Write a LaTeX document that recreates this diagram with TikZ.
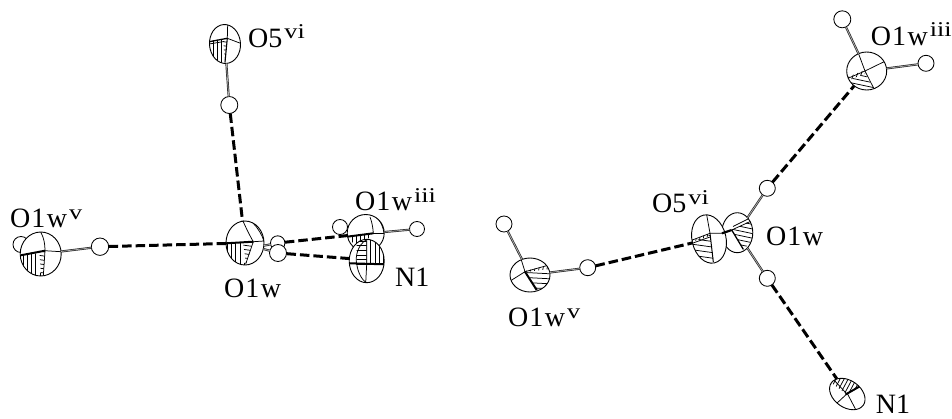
\documentclass[tikz,border=0pt]{standalone}
\usepackage{fontspec}
\setmainfont{Liberation Serif}
\usetikzlibrary{shapes.geometric}
\tikzset{
  atom/.style={draw=black,line width=0.9pt,fill=white,ellipse,inner sep=0pt,outer sep=0pt},
  hyd/.style={draw=black,line width=0.85pt,fill=white,circle,inner sep=0pt,outer sep=0pt},
  hbond/.style={line width=3pt,dash pattern=on 9.5pt off 4pt},
  cbond/.style={draw=black!85,line width=0.7pt,double=white!70!black,double distance=0.7pt},
  lab/.style={anchor=base west,inner sep=0pt,font=\fontsize{28}{28}\selectfont},
  fine/.style={line width=0.75pt},
  heavy/.style={line width=2pt}
}
\newcommand{\upx}[1]{\kern2pt\raisebox{8.5pt}{\scalebox{1.25}[1]{\fontsize{21}{21}\selectfont #1}}}
\newcommand{\owat}{O\kern1pt 1\kern1.5pt w}
\newcommand{\atomn}[6]{\node[atom,minimum width=2*#4 pt,minimum height=2*#5 pt,rotate=#6] (#1) at (#2,#3) {};}
\newcommand{\hatm}[4]{\node[hyd,minimum size=2*#4 pt] (#1) at (#2,#3) {};}
\newcommand{\detail}[6]{\begin{scope}\clip[shift={(#1,#2)},rotate=#5] (0,0) ellipse[x radius=#3,y radius=#4];#6\end{scope}}
\newcommand{\hatch}[4]{\begin{scope}\clip #1;\begin{scope}[shift={(#2)},rotate=#3]\foreach \i in {-10,...,10}{\draw[fine] (-70,\i*#4)--(70,\i*#4);}\end{scope}\end{scope}}
\begin{document}
\begin{tikzpicture}[x=1pt,y=-1pt]
\path[use as bounding box,fill=white] (0,0) rectangle (952,418);

% ---------- left cluster ----------
\hatm{hLa}{229.3}{105}{8.5}
\hatm{hLb}{100}{246.7}{8.7}
\hatm{hLv}{21}{244.5}{8}
\atomn{oLfive}{225}{44}{15.5}{19.5}{4}
\detail{225}{44}{15.5}{19.5}{4}{
  \hatch{(209,41)--(223,39)--(225,63)--(205,63)--cycle}{225,44}{90}{4}
  \hatch{(223,39)--(227.3,38.3)--(225,63)--cycle}{225,50}{-8}{4}
  \draw[line width=1.3pt] (209.3,41.7)--(227.3,38.3);
  \draw[fine] (209.3,44)--(224,41.5);
  \draw[line width=1.1pt] (227.3,38.3)--(225,62.3);
  \draw[fine] (227.7,24)--(227.3,38.3)--(241,43.5);
}
\atomn{oLv}{40.7}{254}{20.5}{22}{0}
\detail{40.7}{254}{20.5}{22}{0}{
  \hatch{(20.7,255.3)--(39.5,253)--(41,277)--(20,277)--cycle}{40,260}{90}{4.2}
  \hatch{(39.5,253)--(45,250.7)--(43.3,277)--(41,277)--cycle}{42,260}{-8}{4.2}
  \draw[heavy] (20.7,255.3)--(45,250.7);
  \draw[fine] (45,250.7)--(43.3,276);
  \draw[fine] (40.7,232) .. controls (44,238) and (45,244) .. (45,250.7);
  \draw[fine] (45,250.7)--(61,251.7);
}
\atomn{oLw}{245}{243}{19}{22}{0}
\detail{245}{243}{19}{22}{0}{
  \hatch{(226,243)--(243,242)--(245,266)--(226,266)--cycle}{240,250}{90}{4.2}
  \hatch{(243,242)--(253.3,241.7)--(246,264)--cycle}{248,250}{-8}{4.2}
  \draw[heavy] (225.7,243.3)--(253.3,241.7);
  \draw[fine] (253.3,241.7)--(245.7,264);
  \draw[fine] (243,221) .. controls (246,228) and (250,236) .. (253.3,241.7);
  \draw[fine] (253,223) .. controls (258,228) and (262,235) .. (264,241);
  \draw[fine] (253.3,241.7)--(264,241);
}
\atomn{oLiii}{365.7}{233}{18.5}{18.5}{0}
\detail{365.7}{233}{18.5}{18.5}{0}{
  \hatch{(348,236)--(373.3,233.3)--(358,250)--cycle}{360,240}{90}{4}
  \draw[heavy] (347,236.7)--(373.3,233.3);
  \draw[fine] (370,217) .. controls (372,222) and (373,228) .. (373.3,233.3);
  \draw[fine] (373.3,233.3)--(384,233.3);
  \draw[fine] (376,217) .. controls (381,221) and (383,227) .. (384,233);
}
\hatm{hLc}{340}{227}{7.5}
\hatm{hLd}{417}{229}{7.5}
\hatm{hLe}{277.7}{243}{7.2}
\draw[cbond] (oLfive)--(hLa);
\draw[cbond] (oLv)--(hLb);
\draw[cbond] (oLw.-8)--(hLe);
\hatm{hLf}{278}{253}{8.5}
\draw[cbond] (oLw.-18)--(hLf);
\draw[cbond] (oLiii.3)--(hLd);
\atomn{nL}{366.7}{261}{17.5}{21.7}{0}
\detail{366.7}{261}{17.5}{21.7}{0}{
  \hatch{(356.7,240)--(366.7,240)--(366.7,264)--(356.7,264)--cycle}{360,255}{0}{4.6}
  \hatch{(366.7,240)--(386,240)--(386,264.5)--(366.7,264)--cycle}{375,255}{90}{4.2}
  \draw[heavy] (349,263.3)--(385,264.3);
  \draw[fine] (366.7,239)--(366.7,264)--(365.7,283);
  \draw[fine] (366,240) .. controls (358,245) and (355,256) .. (356.7,264) .. controls (358,273) and (362,280) .. (366.7,283);
}
\draw[hbond] (hLa)--(oLw);
\draw[hbond] (hLb)--(oLw);
\draw[hbond] (hLe)--(oLiii.188);
\draw[hbond] (hLf)--(nL.172);

% ---------- right cluster ----------
\hatm{hRa}{767.3}{188.3}{8}
\hatm{hRb}{767.3}{278.3}{8}
\hatm{hRc}{504}{224}{8}
\hatm{hRd}{587.7}{267.7}{8}
\hatm{hRe}{842.3}{19.3}{8.5}
\hatm{hRf}{926}{63.3}{8}
\atomn{oRw}{737.3}{232.7}{15.5}{20}{0}
\detail{737.3}{232.7}{15.5}{20}{0}{
  \hatch{(731.7,230)--(752,220)--(756,236)--(743.3,250)--cycle}{745,232}{-12}{4.5}
  \draw[fine] (731.7,230)--(752,220.7);
  \draw[fine] (733,226.5)--(750,218);
  \draw[line width=1.3pt] (731.7,230)--(743.3,249.3);
}
\draw[cbond] (oRw)--(hRa);
\draw[cbond] (oRw)--(hRb);
\atomn{oRfive}{709}{239}{17}{24.5}{13}
\detail{709}{239}{17}{24.5}{13}{
  \hatch{(692,242)--(710,235)--(714,263)--(695,263)--cycle}{705,246}{-8}{5.5}
  \hatch{(692,240)--(710,233.3)--(710,236)--(692,242)--cycle}{700,237}{80}{3.5}
  \draw[fine] (692.3,240)--(710,233.3);
  \draw[fine] (693,243)--(710,237);
  \draw[line width=1pt] (710,233.3)--(713.3,262);
  \draw[fine] (706.7,215)--(710,233.3)--(724,233.3);
}
\draw[line width=2.2pt] (722,233.3)--(731.7,230);
\atomn{oRv}{530}{275}{20}{17}{0}
\detail{530}{275}{20}{17}{0}{
  \hatch{(527,272)--(549,269)--(549,285)--(537,292)--cycle}{535,278}{-3}{5}
  \hatch{(525,271)--(549,265)--(549,269)--(527,272)--cycle}{535,268}{80}{4}
  \draw[heavy] (525,271.7)--(536.7,290);
  \draw[fine] (525,271.7)--(549,265);
  \draw[fine] (520.7,258)--(525,271.7)--(511,280.5);
}
\draw[cbond] (oRv)--(hRc);
\draw[cbond] (oRv)--(hRd);
\atomn{oRiii}{866.7}{71}{20}{19}{0}
\detail{866.7}{71}{20}{19}{0}{
  \hatch{(865,74)--(848,80)--(855,88)--(875,90)--cycle}{860,80}{-12}{4.6}
  \hatch{(865,70)--(848,77)--(849,80)--(865,74)--cycle}{857,75}{70}{3.6}
  \draw[fine] (858.3,53)--(865,71)--(874.6,90);
  \draw[fine] (865,71)--(885.5,61);
  \draw[fine] (865,71)--(847.5,78.5);
}
\draw[cbond] (oRiii)--(hRe);
\draw[cbond] (oRiii)--(hRf);
\atomn{nR}{847.3}{394}{19.5}{13.5}{-35}
\detail{847.3}{394}{19.5}{13.5}{-35}{
  \hatch{(830,382)--(840,373)--(862,385)--(847,394.5)--cycle}{845,385}{62}{3.6}
  \draw[heavy] (845.5,394.5)--(859.5,386.5);
  \draw[fine] (833,379)--(846,393);
  \draw[fine] (836,404)--(847.3,393.5)--(857,412);
}
\draw[hbond] (hRa)--(oRiii);
\draw[hbond] (hRb)--(nR);
\draw[hbond] (hRd)--(oRfive);

% ---------- labels ----------
\node[lab] (tA) at (248,47.3) {O5\upx{vi}};
\node[lab] (tB) at (10,227.7) {\owat\upx{v}};
\node[lab] (tC) at (224,297) {\owat};
\node[lab] (tD) at (355,210.7) {\owat\upx{iii}};
\node[lab] (tE) at (395,286) {N1};
\node[lab] (tF) at (652,212.7) {O5\upx{vi}};
\node[lab] (tG) at (766,245) {\owat};
\node[lab] (tH) at (508,326.7) {\owat\upx{v}};
\node[lab] (tI) at (870.7,45) {\owat\upx{iii}};
\node[lab] (tJ) at (875.7,413.5) {N1};
\end{tikzpicture}
\end{document}
